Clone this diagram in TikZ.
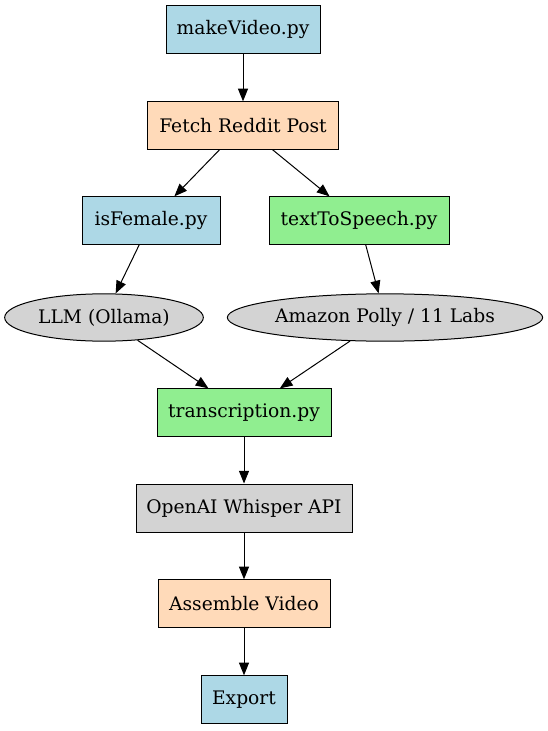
\documentclass[tikz,border=0pt]{standalone}
\usepackage{fontspec}
\setmainfont{DejaVu Serif}
\usetikzlibrary{arrows.meta,shapes.geometric}
\definecolor{lblue}{HTML}{ADD8E6}
\definecolor{peach}{HTML}{FFDAB9}
\definecolor{lgreen}{HTML}{90EE90}
\definecolor{lgray}{HTML}{D3D3D3}
\tikzset{
  base/.style={draw=black, line width=0.75pt, inner sep=0pt, minimum height=35.5pt, font=\fontsize{14}{16}\selectfont, text=black},
  box/.style={base, rectangle},
  oval/.style={base, ellipse, fill=lgray},
  edge/.style={-{Triangle[length=9.5pt,width=7.5pt]}, line width=0.75pt, black},
}
\begin{document}
\begin{tikzpicture}[x=0.75pt,y=-0.75pt]
\useasboundingbox (0,0) rectangle (547,731);
\node[box, fill=lblue, minimum width=115.5pt] (mv) at (243,29.5) {makeVideo.py};
\node[box, fill=peach, minimum width=143.25pt] (fr) at (243,125.5) {Fetch Reddit Post};
\node[box, fill=lblue, minimum width=103.5pt] (isf) at (151,220.5) {isFemale.py};
\node[box, fill=lgreen, minimum width=135pt] (tts) at (359,220.5) {textToSpeech.py};
\node[oval, minimum width=149pt] (llm) at (104,317.5) {LLM (Ollama)};
\node[oval, minimum width=236.5pt] (ap) at (385,317.5) {Amazon Polly / 11 Labs};
\node[box, fill=lgreen, minimum width=130.5pt] (tr) at (244,412.5) {transcription.py};
\node[box, fill=lgray, minimum width=162pt, minimum height=36pt] (ow) at (244,508) {OpenAI Whisper API};
\node[box, fill=peach, minimum width=129pt] (av) at (244,603.5) {Assemble Video};
\node[box, fill=lblue, minimum width=64.5pt] (ex) at (244,699.5) {Export};
\draw[edge] (mv) -- (fr);
\draw[edge] (fr) -- (isf);
\draw[edge] (fr) -- (tts);
\draw[edge] (isf) -- (llm);
\draw[edge] ([xshift=5pt]tts.south) -- (ap);
\draw[edge] (llm) -- (tr);
\draw[edge] (ap) -- (tr);
\draw[edge] (tr) -- (ow);
\draw[edge] (ow) -- (av);
\draw[edge] (av) -- (ex);
\end{tikzpicture}
\end{document}
